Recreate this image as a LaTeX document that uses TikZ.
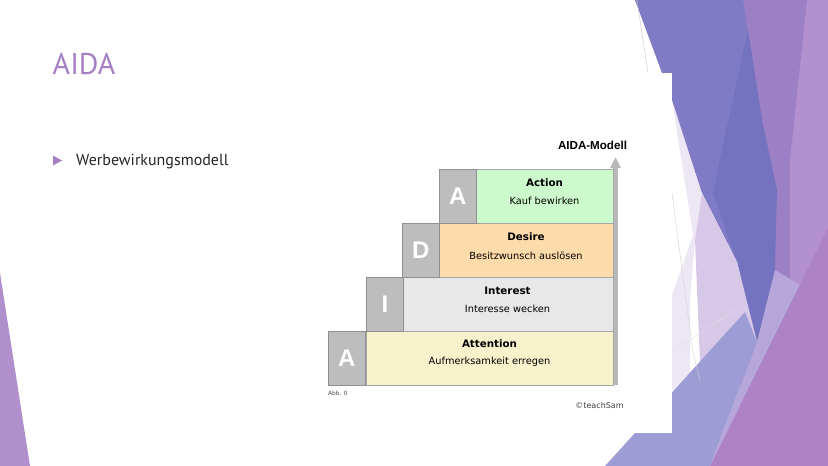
\documentclass[tikz,border=0pt]{standalone}
\usepackage{fontspec}
\setmainfont{PT Sans}
\newfontfamily\dejavu{DejaVu Sans}
\newfontfamily\libsans{Liberation Sans}
\usetikzlibrary{arrows.meta}
\definecolor{cD}{HTML}{B391D0}
\definecolor{cC}{HTML}{9D7FC6}
\definecolor{cA}{HTML}{7F7CC5}
\definecolor{cB}{HTML}{7473BF}
\definecolor{cVL}{HTML}{EDE6F4}
\definecolor{cL}{HTML}{D8C8E8}
\definecolor{cLP}{HTML}{B6A6D9}
\definecolor{cG}{HTML}{9D9CD4}
\definecolor{cE}{HTML}{AE82C6}
\definecolor{cLeft}{HTML}{B08FCC}
\definecolor{titlecol}{HTML}{A57FC3}
\definecolor{boxgray}{HTML}{BDBDBD}
\definecolor{edgegray}{HTML}{909090}
\definecolor{cyellow}{HTML}{F8F2CC}
\definecolor{cgraybar}{HTML}{E8E8E8}
\definecolor{corange}{HTML}{FDDBAA}
\definecolor{cgreen}{HTML}{CCFACC}
\definecolor{arrowcol}{HTML}{B8B8B8}
\tikzset{
  letterbox/.style={draw=edgegray, line width=0.8pt, fill=boxgray, anchor=north west,
    minimum width=37pt, minimum height=54pt, inner sep=0pt, text=white,
    font=\libsans\bfseries\fontsize{24}{24}\selectfont},
  stagebar/.style={draw=edgegray!80, line width=0.8pt, anchor=north west,
    minimum height=54pt, inner sep=0pt},
  headtext/.style={inner sep=0pt, font=\dejavu\bfseries\fontsize{10.3}{12}\selectfont},
  subtext/.style={inner sep=0pt, font=\dejavu\fontsize{9.8}{12}\selectfont},
}
\begin{document}
\begin{tikzpicture}[x=1pt,y=-1pt]
\useasboundingbox (0,0) rectangle (828,466);
\fill[white] (0,0) rectangle (828,466);
% background facets
\fill[cD] (740,0) rectangle (828,466);
\fill[cC] (743,0)--(807,0)--(790,160)--(790,300)--(766,300)--(767,160)--cycle;
\fill[cVL] (672,100)--(702,193)--(695,240)--(690,300)--(690,372)--(672,390)--cycle;
\fill[white] (672,100)--(693,235)--(672,295)--cycle;
\fill[cA] (635,0)--(743,0)--(762,120)--(737,262)--(702,193)--(672,100)--cycle;
\fill[cB] (748,30)--(762,120)--(777,190)--(775,270)--(757,342)--(737,262)--(713,193)--(727,127)--cycle;
\fill[cL] (702,193)--(737,262)--(757,342)--(700,362)--(695,240)--cycle;
\fill[cLP] (757,342)--(775,270)--(800,285)--(710,466)--cycle;
\fill[cG] (605,466)--(745,312)--(757,342)--(710,466)--cycle;
\fill[cE] (710,466)--(828,466)--(828,228)--cycle;
\fill[cLeft] (0,273)--(30,466)--(0,466)--cycle;
\draw[gray!45, line width=0.4pt] (637,0)--(648,73);
\draw[gray!35, line width=0.4pt] (672,193)--(693,353)--(700,380);
\draw[gray!25, line width=0.4pt] (671,352)--(740,307);
% white picture area
\fill[white] (318,73) rectangle (672,433);
% title and bullet
\node[anchor=base west, inner sep=0pt, text=titlecol, font=\fontsize{30}{30}\selectfont] (title) at (52.5,74.5) {AIDA};
\fill[titlecol] (53,155.5)--(62,160.5)--(53,165.5)--cycle;
\node[anchor=base west, inner sep=0pt, text=black!85, font=\fontsize{16}{16}\selectfont] (bullet) at (76,165) {Werbewirkungsmodell};
% arrow
\coordinate (arrS) at (615.5,385);
\coordinate (arrE) at (615.5,157);
\draw[arrowcol, line width=5pt, -{Triangle[width=10pt,length=11pt]}] (arrS) -- (arrE);
% stages
\node[stagebar, fill=cyellow, minimum width=247pt] (attbar) at (366,331) {};
\node[stagebar, fill=cgraybar, minimum width=211pt] (intbar) at (402,277) {};
\node[stagebar, fill=corange, minimum width=174pt] (desbar) at (439,223) {};
\node[stagebar, fill=cgreen, minimum width=137pt] (actbar) at (476,169) {};
\node[letterbox] (la1) at (328,331) {A};
\node[letterbox] (li) at (366,277) {I};
\node[letterbox] (ld) at (402,223) {D};
\node[letterbox] (la2) at (439,169) {A};
% texts
\node[headtext] (acth) at (544.5,183) {Action};
\node[subtext] (acts) at (544.5,201) {Kauf bewirken};
\node[headtext] (desh) at (526,237) {Desire};
\node[subtext] (dess) at (526,255.5) {Besitzwunsch auslösen};
\node[headtext] (inth) at (507.5,291) {Interest};
\node[subtext] (ints) at (507.5,309) {Interesse wecken};
\node[headtext] (atth) at (489.5,344) {Attention};
\node[subtext] (atts) at (489.5,362) {Aufmerksamkeit erregen};
\node[inner sep=0pt, font=\libsans\bfseries\fontsize{11.6}{12}\selectfont] (model) at (592.5,145) {AIDA-Modell};
\node[inner sep=0pt, anchor=west, text=black!70, font=\dejavu\fontsize{5.8}{6}\selectfont] (abb) at (328,393) {Abb. 0};
\node[inner sep=0pt, text=black!75, font=\dejavu\fontsize{8}{9}\selectfont] (copy) at (599.5,406) {©teachSam};
\end{tikzpicture}
\end{document}
